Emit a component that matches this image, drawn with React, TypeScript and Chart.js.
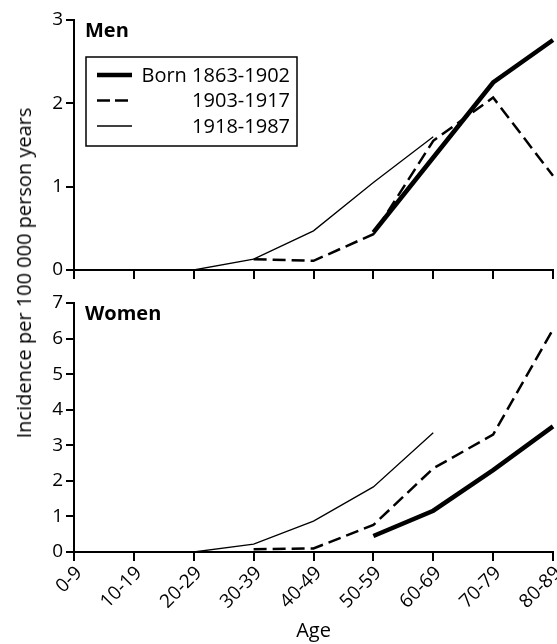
import React, { useEffect, useRef } from 'react';
import { Chart, registerables } from 'chart.js';

Chart.register(...registerables);

// ---- data ----
const ageGroups = ['0-9', '10-19', '20-29', '30-39', '40-49', '50-59', '60-69', '70-79', '80-89'];
const cohortLabels = ['Born 1863-1902', '1903-1917', '1918-1987'];

const menBorn1863 = [null, null, null, null, null, 0.45, 1.35, 2.25, 2.76];
const menBorn1903 = [null, null, null, 0.13, 0.11, 0.43, 1.55, 2.07, 1.13];
const menBorn1918 = [null, null, 0, 0.13, 0.47, 1.05, 1.6, null, null];

const womenBorn1863 = [null, null, null, null, null, 0.45, 1.16, 2.3, 3.53];
const womenBorn1903 = [null, null, null, 0.08, 0.1, 0.76, 2.35, 3.3, 6.26];
const womenBorn1918 = [null, null, 0, 0.22, 0.87, 1.83, 3.35, null, null];

const menMax = 3;
const womenMax = 7;

const FONT = "'Open Sans', 'DejaVu Sans', sans-serif";
const W = 557;
const TOP_H = 283;
const BOTTOM_H = 361;

const styles = [
  { borderWidth: 4.5, borderDash: [] as number[] },
  { borderWidth: 2.5, borderDash: [13, 6] },
  { borderWidth: 1.3, borderDash: [] as number[] },
];

function makeDatasets(series: (number | null)[][]) {
  return series.map((data, i) => ({
    label: cohortLabels[i],
    data,
    borderColor: '#000',
    backgroundColor: '#000',
    borderWidth: styles[i].borderWidth,
    borderDash: styles[i].borderDash,
    pointRadius: 0,
    pointHoverRadius: 0,
    fill: false,
    tension: 0,
    spanGaps: false,
  }));
}

function panelTitlePlugin(text: string) {
  return {
    id: 'panelTitle',
    afterDraw(chart: any) {
      const { ctx, chartArea } = chart;
      ctx.save();
      ctx.fillStyle = '#000';
      ctx.font = `bold 20px ${FONT}`;
      ctx.textAlign = 'left';
      ctx.textBaseline = 'middle';
      ctx.fillText(text, chartArea.left + 11, chartArea.top + 11);
      ctx.restore();
    },
  };
}

const legendPlugin = {
  id: 'cohortLegend',
  afterDraw(chart: any) {
    const { ctx, chartArea } = chart;
    const left = chartArea.left + 12;
    const top = chartArea.top + 37;
    const w = 211;
    const h = 89;
    ctx.save();
    ctx.strokeStyle = '#000';
    ctx.lineWidth = 1.5;
    ctx.setLineDash([]);
    ctx.strokeRect(left, top, w, h);
    const rowY = [top + 18, top + 43.5, top + 69];
    cohortLabels.forEach((label, i) => {
      ctx.beginPath();
      ctx.lineWidth = styles[i].borderWidth;
      ctx.setLineDash(i === 1 ? [13, 5] : []);
      ctx.moveTo(left + 11, rowY[i]);
      ctx.lineTo(left + 46, rowY[i]);
      ctx.stroke();
      ctx.setLineDash([]);
      ctx.fillStyle = '#000';
      ctx.font = `20px ${FONT}`;
      ctx.textAlign = 'right';
      ctx.textBaseline = 'middle';
      ctx.fillText(label, left + w - 7, rowY[i] + 1);
    });
    ctx.restore();
  },
};

function makeOptions(max: number, showXLabels: boolean, xHeight: number): any {
  const axisGrid = {
    display: true,
    drawOnChartArea: false,
    drawTicks: true,
    color: '#000',
    lineWidth: 2,
  };
  return {
    responsive: false,
    animation: false,
    events: [],
    layout: { padding: { top: 20, right: 4, left: 0, bottom: 0 } },
    plugins: { legend: { display: false }, tooltip: { enabled: false }, title: { display: false } },
    scales: {
      x: {
        type: 'category',
        offset: false,
        ticks: {
          display: showXLabels,
          autoSkip: false,
          maxRotation: 45,
          minRotation: 45,
          labelOffset: 5,
          color: '#000',
          font: { family: FONT, size: 19 },
          padding: 1,
        },
        grid: { ...axisGrid, tickLength: 9 },
        border: { display: true, color: '#000', width: 2 },
        title: showXLabels
          ? { display: true, text: 'Age', color: '#000', font: { family: FONT, size: 20 }, padding: { top: 0, bottom: 1 } }
          : { display: false },
        afterFit: (s: any) => {
          s.height = xHeight;
          s.paddingLeft = 0;
          s.paddingRight = 0;
        },
      },
      y: {
        min: 0,
        max,
        ticks: { stepSize: 1, color: '#000', font: { family: FONT, size: 19 }, padding: 3 },
        grid: { ...axisGrid, tickLength: 8 },
        border: { display: true, color: '#000', width: 2 },
        afterFit: (s: any) => {
          s.width = 74;
          s.paddingTop = 0;
          s.paddingBottom = 0;
        },
      },
    },
  };
}

export default function App() {
  const topRef = useRef<HTMLCanvasElement>(null);
  const bottomRef = useRef<HTMLCanvasElement>(null);

  useEffect(() => {
    document.body.style.margin = '0';
    const top = new Chart(topRef.current as HTMLCanvasElement, {
      type: 'line',
      data: { labels: ageGroups, datasets: makeDatasets([menBorn1863, menBorn1903, menBorn1918]) as any },
      options: makeOptions(menMax, false, TOP_H - 270),
      plugins: [panelTitlePlugin('Men'), legendPlugin],
    });
    const bottom = new Chart(bottomRef.current as HTMLCanvasElement, {
      type: 'line',
      data: { labels: ageGroups, datasets: makeDatasets([womenBorn1863, womenBorn1903, womenBorn1918]) as any },
      options: makeOptions(womenMax, true, BOTTOM_H - 269),
      plugins: [panelTitlePlugin('Women')],
    });
    return () => {
      top.destroy();
      bottom.destroy();
    };
  }, []);

  return (
    <div style={{ position: 'absolute', left: 0, top: 0, width: W, height: 644, background: '#fff', overflow: 'hidden' }}>
      <canvas ref={topRef} width={W} height={TOP_H} style={{ position: 'absolute', left: 0, top: 0, width: W, height: TOP_H }} />
      <canvas ref={bottomRef} width={W} height={BOTTOM_H} style={{ position: 'absolute', left: 0, top: TOP_H, width: W, height: BOTTOM_H }} />
      <div
        style={{
          position: 'absolute',
          left: 24,
          top: 273,
          transform: 'translate(-50%, -50%) rotate(-90deg)',
          whiteSpace: 'nowrap',
          fontFamily: FONT,
          fontSize: 20,
          color: '#000',
          lineHeight: 1,
        }}
      >
        Incidence per 100 000 person years
      </div>
    </div>
  );
}
